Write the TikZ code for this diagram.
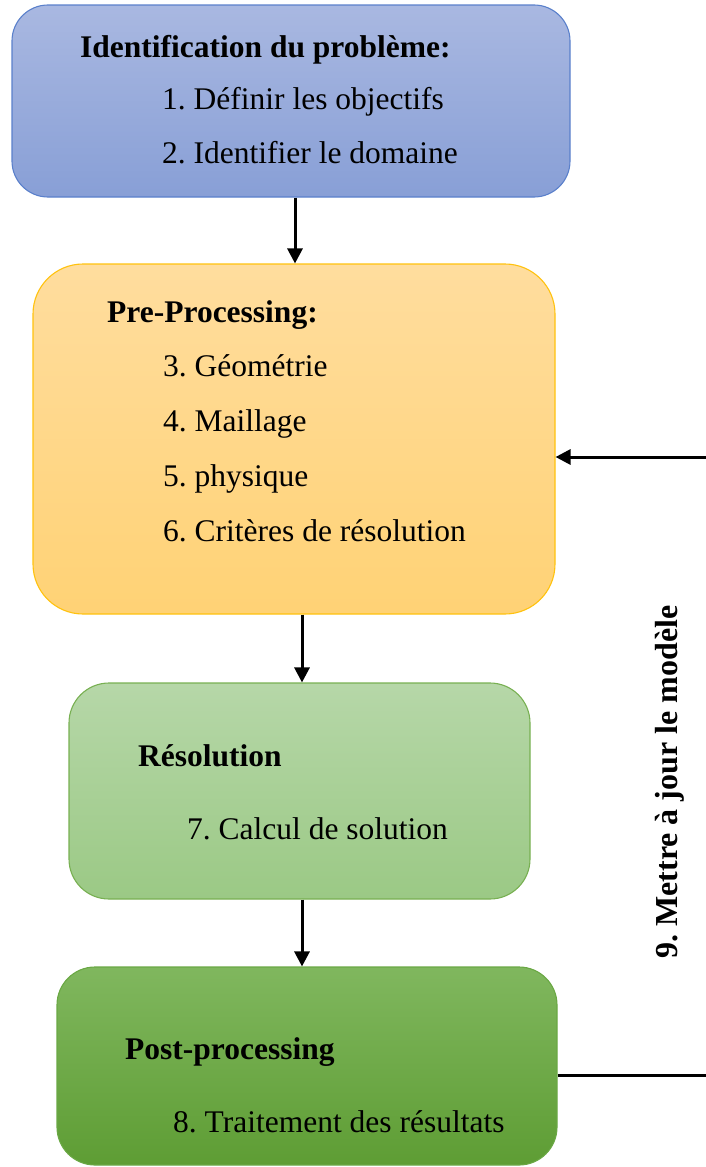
\documentclass[tikz,border=0pt]{standalone}
\usepackage{fontspec}
\setmainfont{Liberation Serif}
\usetikzlibrary{arrows.meta}
\frenchspacing
\definecolor{bTop}{HTML}{A9B8E1}
\definecolor{bBot}{HTML}{889FD6}
\definecolor{bLine}{HTML}{5A80CB}
\definecolor{oTop}{HTML}{FFDD9E}
\definecolor{oBot}{HTML}{FFD275}
\definecolor{oLine}{HTML}{FFC20E}
\definecolor{gTop}{HTML}{B6D7A8}
\definecolor{gBot}{HTML}{9BC985}
\definecolor{gLine}{HTML}{78B052}
\definecolor{dTop}{HTML}{80B75E}
\definecolor{dBot}{HTML}{5E9D34}
\definecolor{dLine}{HTML}{6AA844}
\tikzset{
  stage/.style={rectangle, inner sep=0pt, line width=1.1pt},
  txt/.style={anchor=base west, inner sep=0pt, font=\fontsize{31.5}{38}\selectfont\frenchspacing},
  ttl/.style={txt, font=\fontsize{31.5}{38}\selectfont\bfseries\frenchspacing},
  arr/.style={line width=3pt, -{Triangle[length=15pt,width=15pt]}},
  ln/.style={line width=3pt}
}
\begin{document}
\begin{tikzpicture}[x=1pt,y=-1pt]
\useasboundingbox (0,0) rectangle (705,1167);
% boxes
\node[stage, draw=bLine, top color=bTop, bottom color=bBot, rounded corners=36pt,
  minimum width=558pt, minimum height=192pt] (b1) at (291,101) {};
\node[stage, draw=oLine, top color=oTop, bottom color=oBot, rounded corners=50pt,
  minimum width=522pt, minimum height=350pt] (b2) at (294,439) {};
\node[stage, draw=gLine, top color=gTop, bottom color=gBot, rounded corners=40pt,
  minimum width=461pt, minimum height=216pt] (b3) at (299.5,791) {};
\node[stage, draw=dLine, top color=dTop, bottom color=dBot, rounded corners=38pt,
  minimum width=500pt, minimum height=198pt] (b4) at (307,1066) {};
% texts
\node[ttl] (t1) at (80,57) {Identification du problème:};
\node[txt] (t1a) at (162,109) {1. Définir les objectifs};
\node[txt] (t1b) at (162,163) {2. Identifier le domaine};
\node[ttl] (t2) at (107,322) {Pre-Processing:};
\node[txt] (t2a) at (163,376) {3. Géométrie};
\node[txt] (t2b) at (163,431) {4. Maillage};
\node[txt] (t2c) at (163,486) {5. physique};
\node[txt] (t2d) at (163,541) {6. Critères de résolution};
\node[ttl] (t3) at (138,766) {Résolution};
\node[txt] (t3a) at (187,839) {7. Calcul de solution};
\node[ttl] (t4) at (125,1059) {Post-processing};
\node[txt] (t4a) at (173,1132) {8. Traitement des résultats};
\node[inner sep=0pt, rotate=90, font=\fontsize{32}{38}\selectfont\bfseries\frenchspacing] (fb) at (670,782) {9. Mettre à jour le modèle};
% connectors
\coordinate (a1) at (295,0);
\coordinate (a2) at (302,0);
\draw[arr] (b1.south -| a1) -- (b2.north -| a1);
\draw[arr] (b2.south -| a2) -- (b3.north -| a2);
\draw[arr] (b3.south -| a2) -- (b4.north -| a2);
\coordinate (fbB) at (706,1075);
\coordinate (fbT) at (706,457);
\draw[ln] (b4.east |- fbB) -- (fbB);
\draw[arr] (fbT) -- (b2.east |- fbT);
\end{tikzpicture}
\end{document}
